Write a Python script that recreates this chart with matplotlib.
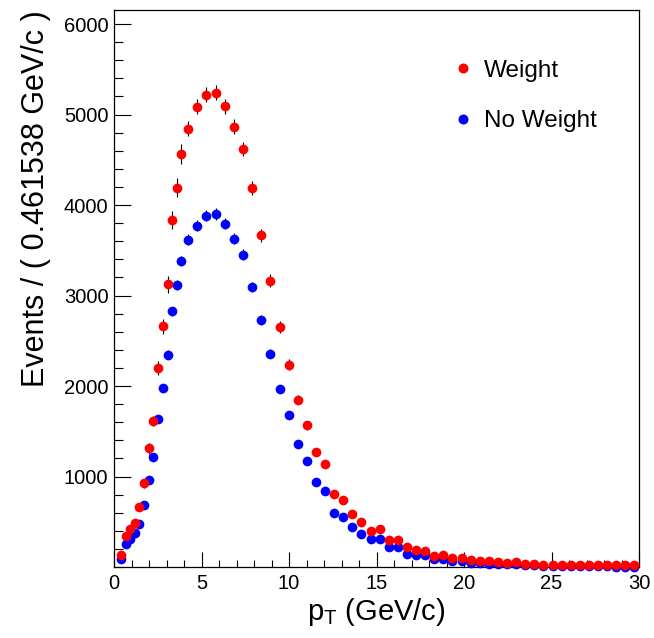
import matplotlib
matplotlib.use('Agg')
import matplotlib.pyplot as plt
from matplotlib.lines import Line2D
from matplotlib.ticker import MultipleLocator

plt.rcParams['font.family'] = ['Liberation Sans', 'DejaVu Sans']
plt.rcParams['mathtext.fontset'] = 'custom'
plt.rcParams['mathtext.rm'] = 'Liberation Sans'

# p_T positions of the points (GeV/c)
pt = [0.38, 0.67, 0.91, 1.18, 1.45, 1.71, 1.98, 2.25, 2.54, 2.78,
      3.07, 3.31, 3.58, 3.85,
      4.25, 4.77, 5.28, 5.81, 6.34, 6.86, 7.37, 7.89, 8.40, 8.94,
      9.46, 9.98, 10.50, 11.02, 11.54, 12.06, 12.58, 13.10, 13.62, 14.14,
      14.66, 15.18, 15.70, 16.22, 16.74, 17.26, 17.78, 18.30, 18.82, 19.34,
      19.86, 20.38, 20.90, 21.42, 21.94, 22.46, 22.98, 23.50, 24.02, 24.54,
      25.06, 25.58, 26.10, 26.62, 27.14, 27.66, 28.18, 28.70, 29.22, 29.74]

weight = [128, 341, 415, 489, 661, 923, 1312, 1610, 2200, 2659,
          3122, 3837, 4193, 4565,
          4841, 5087, 5220, 5242, 5092, 4866, 4617, 4187, 3668, 3163,
          2652, 2236, 1850, 1566, 1273, 1143, 805, 738, 588, 500,
          400, 423, 301, 297, 216, 189, 180, 120, 128, 98,
          103, 76, 70, 62, 58, 43, 51, 36, 36, 25,
          25, 25, 25, 25, 18, 18, 18, 18, 18, 18]
weight_err = [18, 28, 30, 35, 40, 45, 61, 55, 81, 81,
              92, 97, 101, 110,
              83, 85, 83, 86, 85, 83, 79, 74, 72, 70,
              68, 61, 52, 47, 42, 40, 33, 31, 27, 25,
              22, 23, 19, 19, 16, 15, 14, 12, 12, 10,
              10, 9, 9, 8, 8, 7, 7, 6, 6, 5,
              5, 5, 5, 5, 4, 4, 4, 4, 4, 4]

no_weight = [92, 253, 305, 371, 470, 680, 964, 1217, 1640, 1975,
             2347, 2825, 3119, 3384,
             3616, 3770, 3881, 3900, 3792, 3627, 3450, 3094, 2730, 2358,
             1964, 1677, 1364, 1173, 941, 842, 592, 555, 440, 368,
             305, 305, 220, 220, 147, 131, 131, 84, 84, 65,
             70, 48, 48, 38, 36, 28, 28, 22, 20, 15,
             14, 12, 10, 10, 8, 7, 6, 5, 5, 4]
no_weight_err = [10, 16, 17, 19, 22, 26, 31, 35, 40, 44,
                 48, 53, 56, 58,
                 60, 61, 62, 62, 62, 60, 59, 56, 52, 49,
                 44, 41, 37, 34, 31, 29, 24, 24, 21, 19,
                 17, 17, 15, 15, 12, 11, 11, 9, 9, 8,
                 8, 7, 7, 6, 6, 5, 5, 5, 4, 4,
                 4, 3, 3, 3, 3, 3, 2, 2, 2, 2]

fig = plt.figure(figsize=(6.54, 6.38), dpi=100)
ax = fig.add_axes([114 / 654, 71 / 638, 525 / 654, 557 / 638])

# blue first, red on top
eb_kw = dict(fmt='o', ms=7.0, mew=0, ecolor='black', elinewidth=0.8,
             capsize=1.8, capthick=0.8, clip_on=False)
ax.errorbar(pt, no_weight, yerr=no_weight_err, color='#0000ff', zorder=3, **eb_kw)
ax.errorbar(pt, weight, yerr=weight_err, color='#ff0000', zorder=4, **eb_kw)

ax.set_xlim(0, 30)
ax.set_ylim(0, 6155)
ax.xaxis.set_major_locator(MultipleLocator(5))
ax.xaxis.set_minor_locator(MultipleLocator(1))
ax.set_yticks([1000, 2000, 3000, 4000, 5000, 6000])
ax.yaxis.set_minor_locator(MultipleLocator(200))

ax.tick_params(which='both', direction='in', labelsize=14.5, width=0.8,
               top=False, right=False)
ax.tick_params(axis='y', which='major', length=12.5, pad=4)
ax.tick_params(axis='y', which='minor', length=6.5)
ax.tick_params(axis='x', which='major', length=11, pad=5)
ax.tick_params(axis='x', which='minor', length=5.3)
for s in ax.spines.values():
    s.set_linewidth(0.9)

ax.set_xlabel(r'$\mathregular{p_{T}}$ (GeV/c)', fontsize=21, labelpad=2)
ax.set_ylabel('Events / ( 0.461538 GeV/c )', fontsize=22, loc='top',
              labelpad=9)

handles = [Line2D([], [], ls='none', marker='o', ms=7.2, mew=0, color='#ff0000'),
           Line2D([], [], ls='none', marker='o', ms=7.2, mew=0, color='#0000ff')]
ax.legend(handles, ['Weight', 'No Weight'], loc='upper left',
          bbox_to_anchor=(0.6465, 0.911), frameon=False, fontsize=17.5,
          handlelength=0.8, handletextpad=0.45, labelspacing=1.17,
          borderpad=0, borderaxespad=0)

fig.savefig('out.png', dpi=100)
